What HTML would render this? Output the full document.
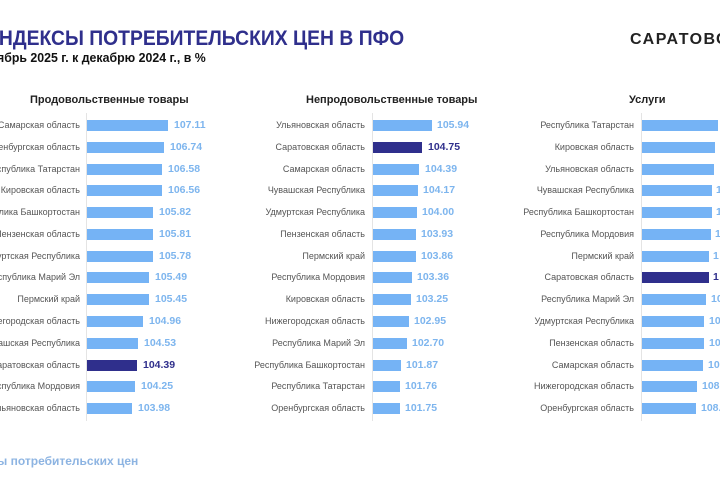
<!DOCTYPE html>
<html><head><meta charset="utf-8"><style>
html,body{margin:0;width:720px;height:480px;overflow:hidden}
body{background:#fff;font-family:"Liberation Sans",sans-serif;position:relative}
.a{position:absolute;white-space:nowrap}
.t{left:-15px;top:27px;font-size:21px;font-weight:bold;color:#2f2f8c;transform:scaleX(0.92);transform-origin:0 0}
.s{left:-3px;top:50px;font-size:13px;font-weight:bold;color:#111;transform:scaleX(0.95);transform-origin:0 0}
.logo{left:630px;top:31px;font-size:16px;font-weight:bold;color:#222;letter-spacing:1.5px}
.h{font-size:11px;font-weight:bold;color:#222;top:94px}
.ax{position:absolute;width:1px;background:#e4e4e4;top:113px;height:308px}
.r{position:absolute;height:11px;line-height:11px;font-size:9px;color:#555;white-space:nowrap}
.l{position:absolute;right:0;text-align:right;white-space:nowrap}
.b{position:absolute;height:11px;background:#75b3f5}
.b.d{background:#2f2f8c}
.v{position:absolute;font-size:10.5px;font-weight:bold;color:#7db5ee;white-space:nowrap}
.v.d{color:#2f2f8c}
.f{left:-3px;top:454px;font-size:12px;font-weight:bold;color:#8db4e2}
#w{position:absolute;left:0;top:0;width:720px;height:480px;overflow:hidden}
</style></head><body><div id="w">
<div class="a t">ИНДЕКСЫ ПОТРЕБИТЕЛЬСКИХ ЦЕН В ПФО</div>
<div class="a s">ябрь 2025 г. к декабрю 2024 г., в %</div>
<div class="a logo">САРАТОВСКСТАТ</div>
<div class="a h" style="left:30px">Продовольственные товары</div>
<div class="a h" style="left:306px">Непродовольственные товары</div>
<div class="a h" style="left:629px">Услуги</div>
<div class="ax" style="left:86px"></div>
<div class="ax" style="left:372px"></div>
<div class="ax" style="left:641px"></div>

<div class="r" style="top:120px;left:0;width:80px"><span class="l">Самарская область</span></div>
<div class="r" style="top:141.8px;left:0;width:80px"><span class="l">Оренбургская область</span></div>
<div class="r" style="top:163.5px;left:0;width:80px"><span class="l">Республика Татарстан</span></div>
<div class="r" style="top:185.3px;left:0;width:80px"><span class="l">Кировская область</span></div>
<div class="r" style="top:207.1px;left:0;width:80px"><span class="l">Республика Башкортостан</span></div>
<div class="r" style="top:228.9px;left:0;width:80px"><span class="l">Пензенская область</span></div>
<div class="r" style="top:250.6px;left:0;width:80px"><span class="l">Удмуртская Республика</span></div>
<div class="r" style="top:272.4px;left:0;width:80px"><span class="l">Республика Марий Эл</span></div>
<div class="r" style="top:294.2px;left:0;width:80px"><span class="l">Пермский край</span></div>
<div class="r" style="top:315.9px;left:0;width:80px"><span class="l">Нижегородская область</span></div>
<div class="r" style="top:337.7px;left:0;width:80px"><span class="l">Чувашская Республика</span></div>
<div class="r" style="top:359.5px;left:0;width:80px"><span class="l">Саратовская область</span></div>
<div class="r" style="top:381.2px;left:0;width:80px"><span class="l">Республика Мордовия</span></div>
<div class="r" style="top:403px;left:0;width:80px"><span class="l">Ульяновская область</span></div>

<div class="b" style="left:87px;top:120px;width:81px"></div><div class="v" style="left:174px;top:119px">107.11</div>
<div class="b" style="left:87px;top:141.8px;width:77px"></div><div class="v" style="left:170px;top:140.8px">106.74</div>
<div class="b" style="left:87px;top:163.5px;width:75px"></div><div class="v" style="left:168px;top:162.5px">106.58</div>
<div class="b" style="left:87px;top:185.3px;width:75px"></div><div class="v" style="left:168px;top:184.3px">106.56</div>
<div class="b" style="left:87px;top:207.1px;width:66px"></div><div class="v" style="left:159px;top:206.1px">105.82</div>
<div class="b" style="left:87px;top:228.9px;width:66px"></div><div class="v" style="left:159px;top:227.9px">105.81</div>
<div class="b" style="left:87px;top:250.6px;width:66px"></div><div class="v" style="left:159px;top:249.6px">105.78</div>
<div class="b" style="left:87px;top:272.4px;width:62px"></div><div class="v" style="left:155px;top:271.4px">105.49</div>
<div class="b" style="left:87px;top:294.2px;width:62px"></div><div class="v" style="left:155px;top:293.2px">105.45</div>
<div class="b" style="left:87px;top:315.9px;width:56px"></div><div class="v" style="left:149px;top:314.9px">104.96</div>
<div class="b" style="left:87px;top:337.7px;width:51px"></div><div class="v" style="left:144px;top:336.7px">104.53</div>
<div class="b d" style="left:87px;top:359.5px;width:50px"></div><div class="v d" style="left:143px;top:358.5px">104.39</div>
<div class="b" style="left:87px;top:381.2px;width:48px"></div><div class="v" style="left:141px;top:380.2px">104.25</div>
<div class="b" style="left:87px;top:403px;width:45px"></div><div class="v" style="left:138px;top:402px">103.98</div>

<div class="r" style="top:120px;left:0;width:365px"><span class="l">Ульяновская область</span></div>
<div class="r" style="top:141.8px;left:0;width:365px"><span class="l">Саратовская область</span></div>
<div class="r" style="top:163.5px;left:0;width:365px"><span class="l">Самарская область</span></div>
<div class="r" style="top:185.3px;left:0;width:365px"><span class="l">Чувашская Республика</span></div>
<div class="r" style="top:207.1px;left:0;width:365px"><span class="l">Удмуртская Республика</span></div>
<div class="r" style="top:228.9px;left:0;width:365px"><span class="l">Пензенская область</span></div>
<div class="r" style="top:250.6px;left:0;width:365px"><span class="l">Пермский край</span></div>
<div class="r" style="top:272.4px;left:0;width:365px"><span class="l">Республика Мордовия</span></div>
<div class="r" style="top:294.2px;left:0;width:365px"><span class="l">Кировская область</span></div>
<div class="r" style="top:315.9px;left:0;width:365px"><span class="l">Нижегородская область</span></div>
<div class="r" style="top:337.7px;left:0;width:365px"><span class="l">Республика Марий Эл</span></div>
<div class="r" style="top:359.5px;left:0;width:365px"><span class="l">Республика Башкортостан</span></div>
<div class="r" style="top:381.2px;left:0;width:365px"><span class="l">Республика Татарстан</span></div>
<div class="r" style="top:403px;left:0;width:365px"><span class="l">Оренбургская область</span></div>

<div class="b" style="left:373px;top:120px;width:59px"></div><div class="v" style="left:437px;top:119px">105.94</div>
<div class="b d" style="left:373px;top:141.8px;width:49px"></div><div class="v d" style="left:428px;top:140.8px">104.75</div>
<div class="b" style="left:373px;top:163.5px;width:46px"></div><div class="v" style="left:425px;top:162.5px">104.39</div>
<div class="b" style="left:373px;top:185.3px;width:45px"></div><div class="v" style="left:423px;top:184.3px">104.17</div>
<div class="b" style="left:373px;top:207.1px;width:44px"></div><div class="v" style="left:422px;top:206.1px">104.00</div>
<div class="b" style="left:373px;top:228.9px;width:43px"></div><div class="v" style="left:421px;top:227.9px">103.93</div>
<div class="b" style="left:373px;top:250.6px;width:43px"></div><div class="v" style="left:421px;top:249.6px">103.86</div>
<div class="b" style="left:373px;top:272.4px;width:39px"></div><div class="v" style="left:417px;top:271.4px">103.36</div>
<div class="b" style="left:373px;top:294.2px;width:38px"></div><div class="v" style="left:416px;top:293.2px">103.25</div>
<div class="b" style="left:373px;top:315.9px;width:36px"></div><div class="v" style="left:414px;top:314.9px">102.95</div>
<div class="b" style="left:373px;top:337.7px;width:34px"></div><div class="v" style="left:412px;top:336.7px">102.70</div>
<div class="b" style="left:373px;top:359.5px;width:28px"></div><div class="v" style="left:406px;top:358.5px">101.87</div>
<div class="b" style="left:373px;top:381.2px;width:27px"></div><div class="v" style="left:405px;top:380.2px">101.76</div>
<div class="b" style="left:373px;top:403px;width:27px"></div><div class="v" style="left:405px;top:402px">101.75</div>

<div class="r" style="top:120px;left:0;width:634px"><span class="l">Республика Татарстан</span></div>
<div class="r" style="top:141.8px;left:0;width:634px"><span class="l">Кировская область</span></div>
<div class="r" style="top:163.5px;left:0;width:634px"><span class="l">Ульяновская область</span></div>
<div class="r" style="top:185.3px;left:0;width:634px"><span class="l">Чувашская Республика</span></div>
<div class="r" style="top:207.1px;left:0;width:634px"><span class="l">Республика Башкортостан</span></div>
<div class="r" style="top:228.9px;left:0;width:634px"><span class="l">Республика Мордовия</span></div>
<div class="r" style="top:250.6px;left:0;width:634px"><span class="l">Пермский край</span></div>
<div class="r" style="top:272.4px;left:0;width:634px"><span class="l">Саратовская область</span></div>
<div class="r" style="top:294.2px;left:0;width:634px"><span class="l">Республика Марий Эл</span></div>
<div class="r" style="top:315.9px;left:0;width:634px"><span class="l">Удмуртская Республика</span></div>
<div class="r" style="top:337.7px;left:0;width:634px"><span class="l">Пензенская область</span></div>
<div class="r" style="top:359.5px;left:0;width:634px"><span class="l">Самарская область</span></div>
<div class="r" style="top:381.2px;left:0;width:634px"><span class="l">Нижегородская область</span></div>
<div class="r" style="top:403px;left:0;width:634px"><span class="l">Оренбургская область</span></div>

<div class="b" style="left:642px;top:120px;width:76px"></div>
<div class="b" style="left:642px;top:141.8px;width:73px"></div>
<div class="b" style="left:642px;top:163.5px;width:72px"></div>
<div class="b" style="left:642px;top:185.3px;width:70px"></div><div class="v" style="left:716px;top:184.3px">1</div>
<div class="b" style="left:642px;top:207.1px;width:70px"></div><div class="v" style="left:716px;top:206.1px">1</div>
<div class="b" style="left:642px;top:228.9px;width:69px"></div><div class="v" style="left:715px;top:227.9px">1</div>
<div class="b" style="left:642px;top:250.6px;width:67px"></div><div class="v" style="left:713px;top:249.6px">1</div>
<div class="b d" style="left:642px;top:272.4px;width:67px"></div><div class="v d" style="left:713px;top:271.4px">1</div>
<div class="b" style="left:642px;top:294.2px;width:64px"></div><div class="v" style="left:711px;top:293.2px">10</div>
<div class="b" style="left:642px;top:315.9px;width:62px"></div><div class="v" style="left:709px;top:314.9px">109</div>
<div class="b" style="left:642px;top:337.7px;width:62px"></div><div class="v" style="left:709px;top:336.7px">10</div>
<div class="b" style="left:642px;top:359.5px;width:61px"></div><div class="v" style="left:708px;top:358.5px">10</div>
<div class="b" style="left:642px;top:381.2px;width:55px"></div><div class="v" style="left:702px;top:380.2px">108.</div>
<div class="b" style="left:642px;top:403px;width:54px"></div><div class="v" style="left:701px;top:402px">108.</div>

<div class="a f">ы потребительских цен</div>
</div></body></html>
